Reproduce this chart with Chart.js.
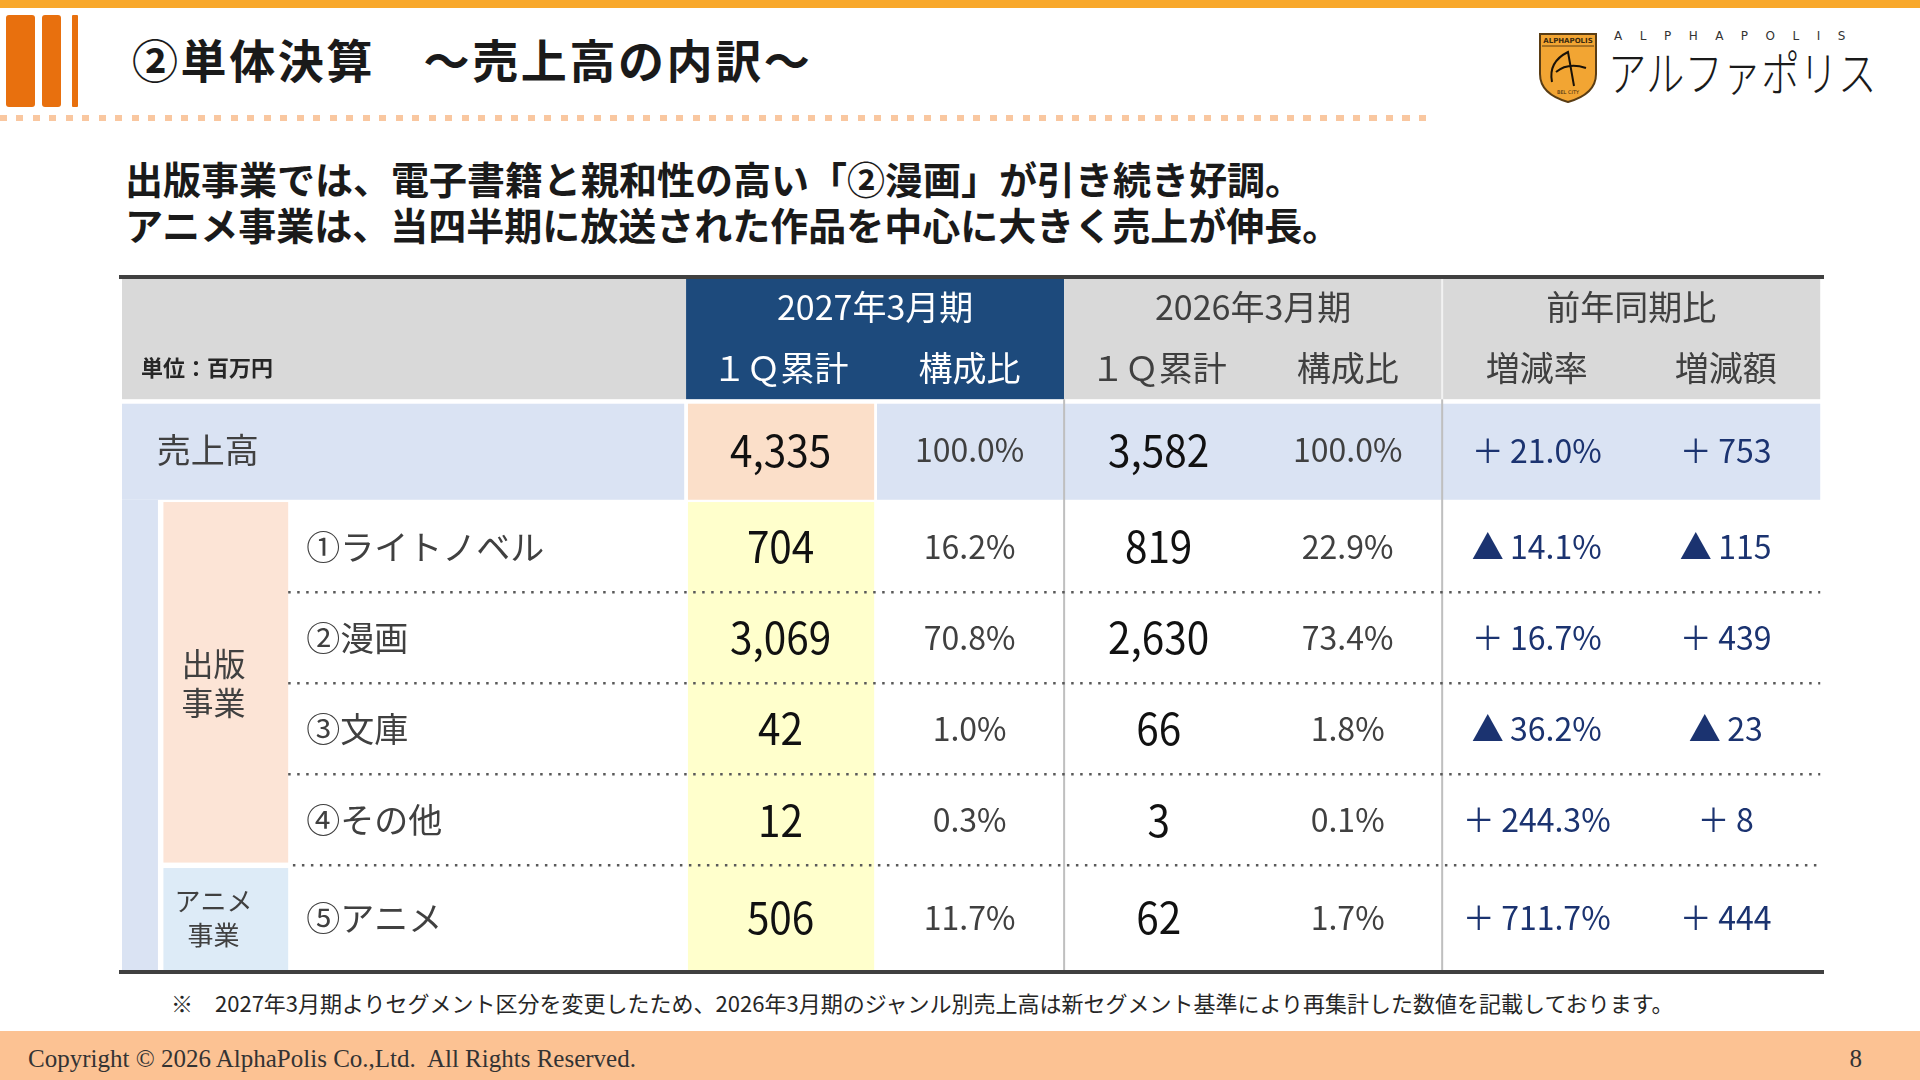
<!DOCTYPE html>
<html lang="ja">
<head>
<meta charset="utf-8">
<title>②単体決算 ～売上高の内訳～</title>
<script src="https://cdn.jsdelivr.net/npm/chart.js@4.4.1/dist/chart.umd.min.js"></script>
<style>
  html, body { margin: 0; padding: 0; }
  body {
    width: 1920px; height: 1080px; position: relative; overflow: hidden;
    background: #ffffff; font-family: "Noto Sans CJK JP", "Noto Sans", sans-serif; color: #1a1a1a;
  }
  .abs { position: absolute; }
  #topBar { left: 0; top: 0; width: 1920px; height: 8px; background: #F8A82B; }
  .tbar { top: 15px; height: 92px; background: #E8700E; border-radius: 3px; }
  #title { left: 132px; top: 33px; font-size: 46px; line-height: 50px; font-weight: 700; letter-spacing: 2.6px; color: #1a1a1a; white-space: nowrap; }
  #dots { left: 0; top: 115px; width: 1432px; height: 6px;
    background: repeating-linear-gradient(90deg, #F9C7A0 0 7px, transparent 7px 16.5px); }
  #lead { left: 125px; top: 155px; font-size: 38px; line-height: 46px; font-weight: 700; color: #1a1a1a; white-space: nowrap; }
  #logoEn { left: 1614px; top: 29px; font-size: 12px; letter-spacing: 17.5px; color: #333; font-family: "DejaVu Sans", sans-serif; }
  #logoJa { left: 1608px; top: 44px; font-size: 48px; line-height: 52px; font-weight: 300; color: #1a1a1a;
    transform: scaleX(0.8); transform-origin: left top; white-space: nowrap; }
  #tableWrap { left: 119px; top: 275px; width: 1705px; height: 700px; }
  #note { left: 171px; top: 988px; font-size: 22px; line-height: 28px; color: #262626; white-space: nowrap; }
  #footer { left: 0; top: 1031px; width: 1920px; height: 49px; background: #FCC293; }
  #copy { left: 28px; top: 1044px; font-family: "Liberation Serif", "DejaVu Serif", serif; font-size: 25px; line-height: 30px; color: #333; white-space: nowrap; }
  #page { right: 58px; top: 1044px; font-family: "Liberation Serif", "DejaVu Serif", serif; font-size: 25px; line-height: 30px; color: #333; }
</style>
</head>
<body>
<div id="topBar" class="abs"></div>
<div class="abs tbar" style="left:6px; width:29px;"></div>
<div class="abs tbar" style="left:42px; width:19px;"></div>
<div class="abs tbar" style="left:72px; width:6px; border-radius:1px;"></div>
<div id="title" class="abs">②単体決算　～売上高の内訳～</div>
<div id="dots" class="abs"></div>

<svg class="abs" style="left:1538px; top:32px;" width="60" height="72" viewBox="0 0 60 72">
  <path d="M2 2 H58 V42 Q58 62 30 70 Q2 62 2 42 Z" fill="#F2A533" stroke="#5a3d14" stroke-width="2"/>
  <text x="30" y="11" font-size="7" text-anchor="middle" fill="#3a2a10" font-family="DejaVu Sans" font-weight="bold">ALPHAPOLIS</text>
  <line x1="4" y1="14" x2="56" y2="14" stroke="#5a3d14" stroke-width="1"/>
  <path d="M14 50 Q10 30 30 20 L36 54 M18 40 Q30 30 48 36" fill="none" stroke="#1a1208" stroke-width="2"/>
  <text x="30" y="62" font-size="5" text-anchor="middle" fill="#3a2a10" font-family="DejaVu Sans">BEL CITY</text>
</svg>
<div id="logoEn" class="abs">ALPHAPOLIS</div>
<div id="logoJa" class="abs">アルファポリス</div>

<div id="lead" class="abs">出版事業では、電子書籍と親和性の高い「②漫画」が引き続き好調。<br>アニメ事業は、当四半期に放送された作品を中心に大きく売上が伸長。</div>

<div id="tableWrap" class="abs"><canvas id="salesTable"></canvas></div>

<div id="note" class="abs">※　2027年3月期よりセグメント区分を変更したため、2026年3月期のジャンル別売上高は新セグメント基準により再集計した数値を記載しております。</div>
<div id="footer" class="abs"></div>
<div id="copy" class="abs">Copyright © 2026 AlphaPolis Co.,Ltd.&nbsp; All Rights Reserved.</div>
<div id="page" class="abs">8</div>

<script>
// 表のデータ（単位：百万円）
const rowLabels = ['売上高', '①ライトノベル', '②漫画', '③文庫', '④その他', '⑤アニメ'];
const segmentLabels = [['出版', '事業'], ['アニメ', '事業']];
const segmentRows = [[1, 4], [5, 5]];
const periodLabels = ['2027年3月期', '2026年3月期', '前年同期比'];
const columnLabels = ['１Ｑ累計', '構成比', '１Ｑ累計', '構成比', '増減率', '増減額'];
const unitLabel = '単位：百万円';

const sales2027 = [4335, 704, 3069, 42, 12, 506];
const share2027 = [100.0, 16.2, 70.8, 1.0, 0.3, 11.7];
const sales2026 = [3582, 819, 2630, 66, 3, 62];
const share2026 = [100.0, 22.9, 73.4, 1.8, 0.1, 1.7];
const changeRate = [21.0, -14.1, 16.7, -36.2, 244.3, 711.7];
const changeAmount = [753, -115, 439, -23, 8, 444];

// 書式（マイナスは▲）
const fmtAmount = v => v.toLocaleString('en-US');
const fmtShare = v => v.toFixed(1) + '%';
const fmtRate = v => (v < 0 ? '▲' : '＋') + '\u2009' + Math.abs(v).toFixed(1) + '%';
const fmtDiff = v => (v < 0 ? '▲' : '＋') + '\u2009' + Math.abs(v).toLocaleString('en-US');

// レイアウト（列・行の単位）
const L = 3.0;
const X_MAX = 9.02;
const rowHeights = [0.66, 0.66, 1.12, 1, 1, 1, 1, 1.15];
const rowEdges = rowHeights.reduce((acc, h) => { acc.push(acc[acc.length - 1] + h); return acc; }, [0]);
const Y_MAX = rowEdges[rowEdges.length - 1];
const colCenter = i => L + 0.5 + i;
const rowCenter = k => (rowEdges[k] + rowEdges[k + 1]) / 2;

const FONT = '"Noto Sans CJK JP", "Noto Sans", sans-serif';
const C = {
    gray: '#D9D9D9', blue: '#1D4A7C', lightBlue: '#DAE3F3', peach: '#FBDFC9',
    yellow: '#FFFFCC', segPeach: '#FCE4D6', segBlue: '#DDEBF7', border: '#404040',
    line: '#BFBFBF', dot: '#595959', text: '#404040', num: '#111111', navy: '#1B3370'
};

const columnValues = [sales2027, share2027, sales2026, share2026, changeRate, changeAmount];
const columnStyles = [
    { fmt: fmtAmount, size: 44, color: C.num, sx: 0.92 },
    { fmt: fmtShare, size: 32, color: C.text, sx: 1 },
    { fmt: fmtAmount, size: 44, color: C.num, sx: 0.92 },
    { fmt: fmtShare, size: 32, color: C.text, sx: 1 },
    { fmt: fmtRate, size: 33, color: C.navy, sx: 0.97 },
    { fmt: fmtDiff, size: 33, color: C.navy, sx: 0.97 }
];

function drawLabel(ctx, text, px, py, size, color, align = 'center', sx = 1, weight = 400) {
    ctx.save();
    ctx.font = `${weight} ${size}px ${FONT}`;
    ctx.fillStyle = color;
    ctx.textAlign = align;
    ctx.textBaseline = 'middle';
    ctx.translate(px, py);
    ctx.scale(sx, 1);
    ctx.fillText(text, 0, 0);
    ctx.restore();
}

// セル背景・罫線・文字を描くプラグイン
const tablePlugin = {
    id: 'salesTable',
    beforeDatasetsDraw(chart) {
        const { ctx, scales: { x, y } } = chart;
        const X = v => x.getPixelForValue(v);
        const Y = v => y.getPixelForValue(v);
        const box = (x0, x1, y0, y1, color) => {
            ctx.fillStyle = color;
            ctx.fillRect(X(x0), Y(y0), X(x1) - X(x0), Y(y1) - Y(y0));
        };
        const e = rowEdges;
        const last = e.length - 1;

        // 見出し
        box(0.016, L, e[0], e[2], C.gray);
        box(L, L + 2, e[0], e[2], C.blue);
        box(L + 2, 9.0, e[0], e[2], C.gray);

        // 売上高の行
        box(0.016, L - 0.01, e[2] + 0.05, e[3] - 0.015, C.lightBlue);
        box(L + 0.01, L + 0.995, e[2] + 0.05, e[3] - 0.015, C.peach);
        box(L + 1.01, 9.0, e[2] + 0.05, e[3] - 0.015, C.lightBlue);

        // 左端の帯とセグメント
        box(0.016, 0.206, e[3] - 0.015, e[last], C.lightBlue);
        box(0.235, 0.895, e[3] + 0.01, e[7] - 0.03, C.segPeach);
        box(0.235, 0.895, e[7] + 0.03, e[last], C.segBlue);
        box(L + 0.01, L + 0.995, e[3] + 0.01, e[last], C.yellow);

        // 縦罫線
        ctx.save();
        ctx.lineWidth = 2;
        [L + 2, L + 4].forEach(v => {
            ctx.strokeStyle = C.line;
            ctx.beginPath();
            ctx.moveTo(X(v), Y(e[2]));
            ctx.lineTo(X(v), Y(e[last]));
            ctx.stroke();
        });
        ctx.strokeStyle = '#F2F2F2';
        ctx.beginPath();
        ctx.moveTo(X(L + 4), Y(e[0]));
        ctx.lineTo(X(L + 4), Y(e[2]));
        ctx.stroke();

        // 点線
        ctx.strokeStyle = C.dot;
        ctx.lineWidth = 2.5;
        ctx.setLineDash([2.5, 6.5]);
        [4, 5, 6, 7].forEach(k => {
            ctx.beginPath();
            ctx.moveTo(X(k === 7 ? 0.92 : 0.895), Y(e[k]));
            ctx.lineTo(X(9.0), Y(e[k]));
            ctx.stroke();
        });
        ctx.setLineDash([]);

        // 上下の太線
        ctx.strokeStyle = C.border;
        ctx.lineWidth = 4;
        ctx.beginPath();
        ctx.moveTo(X(0), Y(0) - 2);
        ctx.lineTo(X(X_MAX), Y(0) - 2);
        ctx.moveTo(X(0), Y(Y_MAX) + 2);
        ctx.lineTo(X(X_MAX), Y(Y_MAX) + 2);
        ctx.stroke();
        ctx.restore();
    },
    afterDatasetsDraw(chart) {
        const { ctx, scales: { x, y } } = chart;
        const X = v => x.getPixelForValue(v);
        const Y = v => y.getPixelForValue(v);

        // 見出し
        periodLabels.forEach((t, i) => {
            drawLabel(ctx, t, X(L + 1 + 2 * i), Y(rowCenter(0)) - 2, 34, i === 0 ? '#FFFFFF' : C.text);
        });
        columnLabels.forEach((t, i) => {
            drawLabel(ctx, t, X(colCenter(i)), Y(rowCenter(1)) - 1, 34, i < 2 ? '#FFFFFF' : C.text);
        });
        drawLabel(ctx, unitLabel, X(0.117), Y(rowCenter(1)) - 1, 22, '#262626', 'left', 1, 700);

        // 行見出し
        rowLabels.forEach((t, r) => {
            const px = r === 0 ? X(0.2) : X(0.99);
            drawLabel(ctx, t, px, Y(rowCenter(r + 2)), 34, C.text, 'left');
        });
        segmentLabels.forEach((lines, s) => {
            const [r0, r1] = segmentRows[s];
            const cy = Y((rowEdges[r0 + 2] + rowEdges[r1 + 3]) / 2);
            const size = s === 0 ? 32 : 26;
            const gap = s === 0 ? 19.5 : 17;
            drawLabel(ctx, lines[0], X(0.5), cy - gap, size, C.text);
            drawLabel(ctx, lines[1], X(0.5), cy + gap, size, C.text);
        });

        // 数値（各データ点の位置に描く）
        chart.data.datasets.forEach((ds, i) => {
            const st = columnStyles[i];
            chart.getDatasetMeta(i).data.forEach((pt, r) => {
                drawLabel(ctx, st.fmt(ds.values[r]), pt.x, pt.y, st.size, st.color, 'center', st.sx);
            });
        });
    }
};

const datasets = columnValues.map((vals, i) => ({
    label: columnLabels[i],
    values: vals,
    data: vals.map((v, r) => ({ x: colCenter(i), y: rowCenter(r + 2) })),
    pointRadius: 0,
    pointHoverRadius: 0,
    showLine: false
}));

new Chart(document.getElementById('salesTable'), {
    type: 'scatter',
    data: { datasets },
    options: {
        responsive: true,
        maintainAspectRatio: false,
        animation: false,
        events: [],
        layout: { padding: { top: 4, bottom: 5, left: 0, right: 0 } },
        plugins: { legend: { display: false }, tooltip: { enabled: false } },
        scales: {
            x: { type: 'linear', min: 0, max: X_MAX, display: false },
            y: { type: 'linear', min: 0, max: Y_MAX, reverse: true, display: false }
        }
    },
    plugins: [tablePlugin]
});
</script>
</body>
</html>
